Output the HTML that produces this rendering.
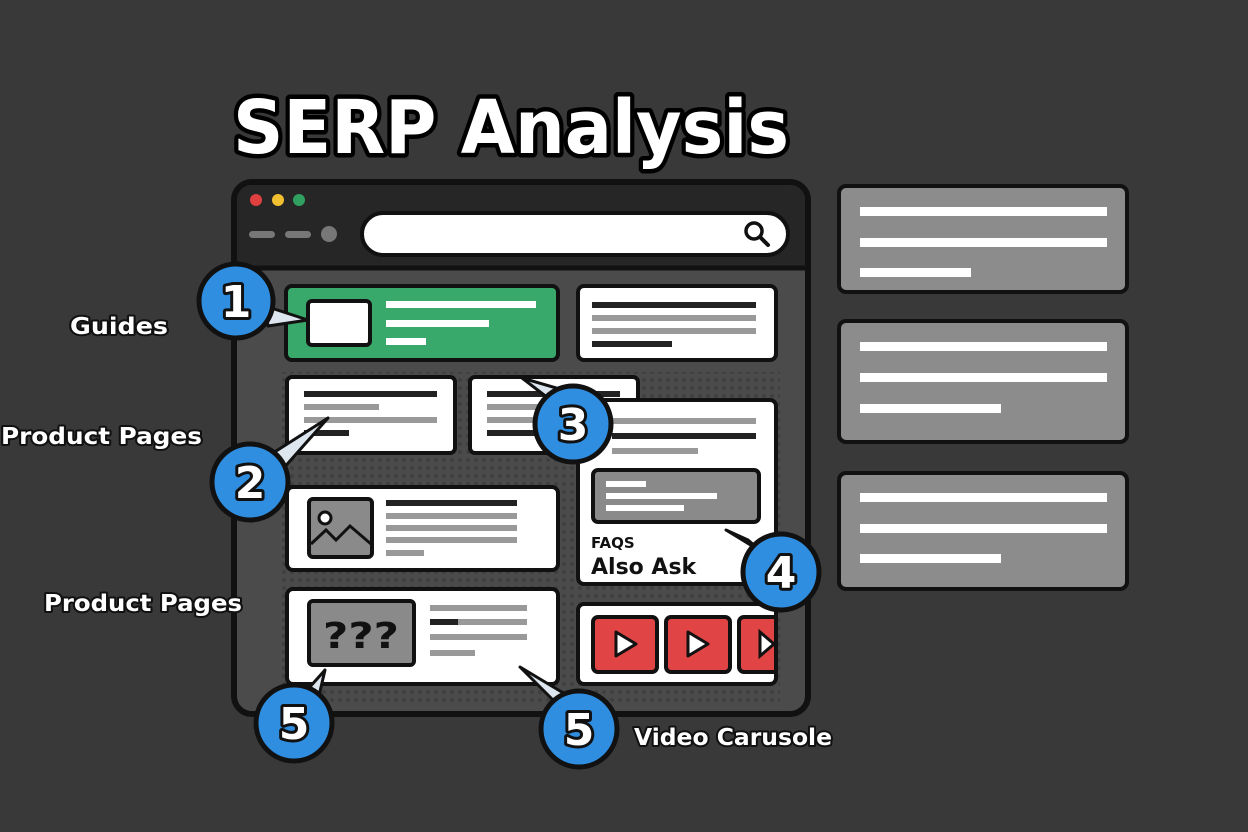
<!DOCTYPE html>
<html><head><meta charset="utf-8"><style>
html,body{margin:0;padding:0;background:#393939;}
svg{display:block;}
text{font-family:"DejaVu Sans","Liberation Sans",sans-serif;font-weight:bold;}
</style></head><body>
<svg width="1248" height="832" viewBox="0 0 1248 832" xmlns="http://www.w3.org/2000/svg">
<defs>
<pattern id="dots" width="8" height="8" patternUnits="userSpaceOnUse"><circle cx="4" cy="4" r="2" fill="#3a3a3a"/></pattern>
</defs>
<rect width="1248" height="832" fill="#393939"/>
<!-- title -->
<text x="233" y="153" font-size="74" fill="#fff" stroke="#000" stroke-width="9" paint-order="stroke" stroke-linejoin="round" textLength="556" lengthAdjust="spacingAndGlyphs">SERP Analysis</text>

<!-- browser -->
<rect x="234" y="182" width="574" height="532" rx="18" fill="#4b4b4b" stroke="#111" stroke-width="6"/>
<rect x="280" y="372" width="500" height="330" fill="url(#dots)" opacity="0.7"/>
<path d="M237 268 V200 a15 15 0 0 1 15 -15 H790 a15 15 0 0 1 15 15 V268 Z" fill="#262626"/>
<line x1="237" y1="268" x2="805" y2="268" stroke="#111" stroke-width="5"/>
<circle cx="256" cy="200" r="6" fill="#e04040"/>
<circle cx="278" cy="200" r="6" fill="#f0c030"/>
<circle cx="299" cy="200" r="6" fill="#30a060"/>
<rect x="249" y="231" width="26" height="7" rx="3.5" fill="#777"/>
<rect x="285" y="231" width="26" height="7" rx="3.5" fill="#777"/>
<circle cx="329" cy="234" r="8" fill="#777"/>
<rect x="362" y="213" width="426" height="42" rx="21" fill="#fff" stroke="#111" stroke-width="4"/>
<circle cx="754" cy="231" r="8" fill="none" stroke="#111" stroke-width="3.5"/>
<line x1="760" y1="237" x2="768" y2="245" stroke="#111" stroke-width="4" stroke-linecap="round"/>

<!-- green card -->
<rect x="286" y="286" width="272" height="74" rx="6" fill="#38a96a" stroke="#111" stroke-width="4"/>
<rect x="308" y="301" width="62" height="44" rx="4" fill="#fff" stroke="#111" stroke-width="4"/>
<rect x="386" y="301" width="150" height="7" fill="#fff"/>
<rect x="386" y="320" width="103" height="7" fill="#fff"/>
<rect x="386" y="338" width="40" height="7" fill="#fff"/>

<!-- top right white -->
<rect x="578" y="286" width="198" height="74" rx="6" fill="#fff" stroke="#111" stroke-width="4"/>
<rect x="592" y="302" width="164" height="6" fill="#222"/>
<rect x="592" y="315" width="164" height="6" fill="#999"/>
<rect x="592" y="328" width="164" height="6" fill="#999"/>
<rect x="592" y="341" width="80" height="6" fill="#222"/>

<!-- row 2 -->
<rect x="287" y="377" width="168" height="76" rx="5" fill="#fff" stroke="#111" stroke-width="4"/>
<rect x="304" y="391" width="133" height="6" fill="#222"/>
<rect x="304" y="404" width="75" height="6" fill="#999"/>
<rect x="304" y="417" width="133" height="6" fill="#999"/>
<rect x="304" y="430" width="45" height="6" fill="#222"/>
<rect x="470" y="377" width="168" height="76" rx="5" fill="#fff" stroke="#111" stroke-width="4"/>
<rect x="487" y="391" width="133" height="6" fill="#222"/>
<rect x="487" y="404" width="133" height="6" fill="#999"/>
<rect x="487" y="417" width="133" height="6" fill="#999"/>
<rect x="487" y="430" width="60" height="6" fill="#222"/>

<!-- FAQ card -->
<rect x="578" y="400" width="198" height="184" rx="6" fill="#fff" stroke="#111" stroke-width="4"/>
<rect x="612" y="418" width="144" height="6" fill="#999"/>
<rect x="612" y="433" width="144" height="6" fill="#222"/>
<rect x="612" y="448" width="86" height="6" fill="#999"/>
<rect x="593" y="470" width="166" height="52" rx="5" fill="#8a8a8a" stroke="#111" stroke-width="4"/>
<rect x="606" y="481" width="40" height="6" fill="#fff"/>
<rect x="606" y="493" width="111" height="6" fill="#fff"/>
<rect x="606" y="505" width="78" height="6" fill="#fff"/>
<text x="591" y="548" font-size="15" fill="#111">FAQS</text>
<text x="591" y="574" font-size="22" fill="#111">Also Ask</text>

<!-- image card -->
<rect x="287" y="487" width="271" height="83" rx="6" fill="#fff" stroke="#111" stroke-width="4"/>
<rect x="309" y="499" width="63" height="58" rx="4" fill="#8a8a8a" stroke="#111" stroke-width="4"/>
<circle cx="325" cy="518" r="6" fill="#fff" stroke="#111" stroke-width="3"/>
<polyline points="311,544 326,530 336,540 350,526 371,544" fill="none" stroke="#111" stroke-width="3"/>
<rect x="386" y="500" width="131" height="6" fill="#222"/>
<rect x="386" y="513" width="131" height="6" fill="#999"/>
<rect x="386" y="525" width="131" height="6" fill="#999"/>
<rect x="386" y="537" width="131" height="6" fill="#999"/>
<rect x="386" y="550" width="38" height="6" fill="#999"/>

<!-- ??? card -->
<rect x="287" y="589" width="271" height="95" rx="6" fill="#fff" stroke="#111" stroke-width="4"/>
<rect x="309" y="601" width="105" height="64" rx="4" fill="#8a8a8a" stroke="#111" stroke-width="4"/>
<text x="361" y="648" font-size="36" fill="#111" text-anchor="middle" textLength="76" lengthAdjust="spacingAndGlyphs">???</text>
<rect x="430" y="605" width="97" height="6" fill="#999"/>
<rect x="430" y="619" width="97" height="6" fill="#999"/>
<rect x="430" y="619" width="28" height="6" fill="#222"/>
<rect x="430" y="634" width="97" height="6" fill="#999"/>
<rect x="430" y="650" width="45" height="6" fill="#999"/>

<!-- video card -->
<rect x="578" y="604" width="198" height="80" rx="6" fill="#fff" stroke="#111" stroke-width="4"/>
<rect x="593" y="617" width="64" height="55" rx="5" fill="#e04444" stroke="#111" stroke-width="4"/>
<polygon points="616,632 616,656 636,644" fill="#fff" stroke="#111" stroke-width="3" stroke-linejoin="round"/>
<rect x="666" y="617" width="64" height="55" rx="5" fill="#e04444" stroke="#111" stroke-width="4"/>
<polygon points="688,632 688,656 708,644" fill="#fff" stroke="#111" stroke-width="3" stroke-linejoin="round"/>
<path d="M774 617 H744 a5 5 0 0 0 -5 5 V667 a5 5 0 0 0 5 5 H774" fill="#e04444" stroke="#111" stroke-width="4"/>
<polygon points="760,632 760,656 774,644 774,644" fill="#fff" stroke="#111" stroke-width="3"/>

<!-- right panels -->
<rect x="839" y="186" width="288" height="106" rx="7" fill="#8c8c8c" stroke="#111" stroke-width="4"/>
<rect x="860" y="207" width="247" height="9" fill="#fff"/>
<rect x="860" y="238" width="247" height="9" fill="#fff"/>
<rect x="860" y="268" width="111" height="9" fill="#fff"/>
<rect x="839" y="321" width="288" height="121" rx="7" fill="#8c8c8c" stroke="#111" stroke-width="4"/>
<rect x="860" y="342" width="247" height="9" fill="#fff"/>
<rect x="860" y="373" width="247" height="9" fill="#fff"/>
<rect x="860" y="404" width="141" height="9" fill="#fff"/>
<rect x="839" y="473" width="288" height="116" rx="7" fill="#8c8c8c" stroke="#111" stroke-width="4"/>
<rect x="860" y="493" width="247" height="9" fill="#fff"/>
<rect x="860" y="524" width="247" height="9" fill="#fff"/>
<rect x="860" y="554" width="141" height="9" fill="#fff"/>

<!-- pointers -->
<g fill="#dde6ee" stroke="#111" stroke-width="3" stroke-linejoin="round">
<polygon points="265,306 308,320 268,326"/>
<polygon points="262,460 328,418 282,470"/>
<polygon points="548,398 522,378 570,392"/>
<polygon points="748,540 726,530 762,552"/>
<polygon points="300,698 325,670 318,700"/>
<polygon points="555,702 520,667 575,700"/>
</g>

<!-- circles -->
<g stroke="#111" stroke-width="5" fill="#2f8ee0">
<circle cx="236" cy="301" r="37"/>
<circle cx="250" cy="482" r="38"/>
<circle cx="573" cy="424" r="38"/>
<circle cx="781" cy="572" r="38"/>
<circle cx="294" cy="723" r="38"/>
<circle cx="579" cy="729" r="38"/>
</g>
<g font-size="44" fill="#fff" stroke="#111" stroke-width="6" paint-order="stroke" text-anchor="middle" stroke-linejoin="round">
<text x="236" y="317">1</text>
<text x="250" y="498">2</text>
<text x="573" y="440">3</text>
<text x="781" y="588">4</text>
<text x="294" y="739">5</text>
<text x="579" y="745">5</text>
</g>

<!-- labels -->
<g font-size="23" fill="#fff" stroke="#111" stroke-width="4" paint-order="stroke" stroke-linejoin="round">
<text x="70" y="334" textLength="98" lengthAdjust="spacingAndGlyphs">Guides</text>
<text x="1" y="444" textLength="201" lengthAdjust="spacingAndGlyphs">Product Pages</text>
<text x="44" y="611" textLength="198" lengthAdjust="spacingAndGlyphs">Product Pages</text>
<text x="634" y="745" textLength="198" lengthAdjust="spacingAndGlyphs">Video Carusole</text>
</g>
</svg>
</body></html>
